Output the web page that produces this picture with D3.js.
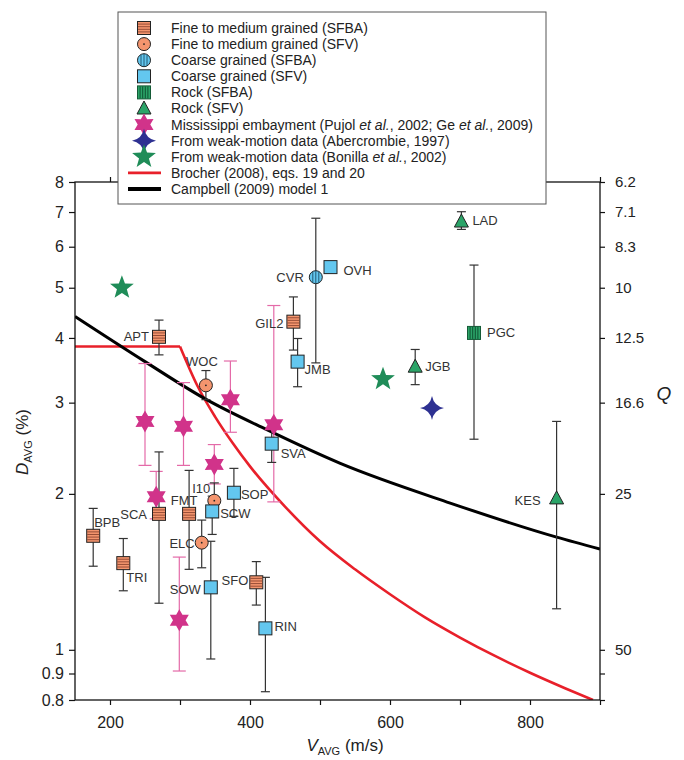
<!DOCTYPE html>
<html lang="en">
<head>
<meta charset="UTF-8">
<title>Damping vs VAVG</title>
<script src="https://d3js.org/d3.v7.min.js"></script>
<style>
    body { margin: 0; background: #fff; }
    svg { display: block; font-family: "Liberation Sans", Arial, sans-serif; }
    .tick text { font-size: 16px; fill: #222; }
    .tick line { stroke: #111; stroke-width: 1.2px; }
    .site { font-size: 13px; fill: #333; }
    .leg { font-size: 14px; fill: #222; }
</style>
</head>
<body>
<svg id="chart" width="684" height="760"></svg>
<script>
// ---- data: V_AVG (m/s), D_AVG (%) and error range ----
const fineSFBA = [
    {site: "APT", v: 270, d: 4.02, lo: 3.71, hi: 4.33},
    {site: "GIL2", v: 462, d: 4.30, lo: 3.79, hi: 4.80},
    {site: "BPB", v: 176, d: 1.66, lo: 1.45, hi: 1.875},
    {site: "TRI", v: 219, d: 1.47, lo: 1.30, hi: 1.64},
    {site: "SCA", v: 270, d: 1.83, lo: 1.23, hi: 2.41},
    {site: "FMT", v: 313, d: 1.83, lo: 1.43, hi: 2.22},
    {site: "SFO", v: 409, d: 1.35, lo: 1.22, hi: 1.48}
];
const fineSFV = [
    {site: "WOC", v: 337, d: 3.24, lo: 3.04, hi: 3.46},
    {site: "I10", v: 349, d: 1.94, lo: 1.80, hi: 2.10},
    {site: "ELC", v: 331, d: 1.61, lo: 1.44, hi: 1.78}
];
const coarseSFBA = [
    {site: "CVR", v: 494, d: 5.24, lo: 3.58, hi: 6.81}
];
const coarseSFV = [
    {site: "OVH", v: 515, d: 5.48, lo: 5.35, hi: 5.60},
    {site: "JMB", v: 468, d: 3.60, lo: 3.22, hi: 3.99},
    {site: "SVA", v: 431, d: 2.50, lo: 2.30, hi: 2.70},
    {site: "SOP", v: 377, d: 2.01, lo: 1.81, hi: 2.24},
    {site: "SCW", v: 346, d: 1.85, lo: 1.67, hi: 1.98},
    {site: "SOW", v: 344, d: 1.32, lo: 0.96, hi: 1.62},
    {site: "RIN", v: 422, d: 1.10, lo: 0.83, hi: 1.38}
];
const rockSFBA = [
    {site: "PGC", v: 720, d: 4.09, lo: 2.55, hi: 5.53}
];
const rockSFV = [
    {site: "LAD", v: 702, d: 6.71, lo: 6.48, hi: 7.01},
    {site: "JGB", v: 636, d: 3.52, lo: 3.25, hi: 3.80},
    {site: "KES", v: 838, d: 1.96, lo: 1.20, hi: 2.76}
];
const mississippi = [
    {v: 250, d: 2.76, lo: 2.27, hi: 3.57},
    {v: 305, d: 2.70, lo: 2.27, hi: 3.28},
    {v: 372, d: 3.04, lo: 2.63, hi: 3.61},
    {v: 434, d: 2.72, lo: 1.93, hi: 4.62},
    {v: 349, d: 2.28, lo: 2.09, hi: 2.49},
    {v: 266, d: 1.975, lo: 1.79, hi: 2.21},
    {v: 299, d: 1.14, lo: 0.91, hi: 1.51}
];
const abercrombie = [{v: 660, d: 2.93}];
const bonilla = [{v: 217, d: 5.0}, {v: 590, d: 3.33}];

// model curves
const brocherV = [150, 300, 325, 350, 375, 400, 450, 500, 550, 600, 650, 700, 750, 800, 850, 890];
const brocherD = [3.85, 3.85, 3.23, 2.82, 2.51, 2.26, 1.89, 1.62, 1.43, 1.28, 1.155, 1.056, 0.973, 0.903, 0.843, 0.80];
const campbellV = [150, 250, 338, 424, 529, 686, 838, 900];
const campbellD = [4.40, 3.60, 3.04, 2.66, 2.29, 1.92, 1.65, 1.565];

// axis ticks
const xTicks = [200, 300, 400, 500, 600, 700, 800, 900];
const xLabels = [200, 400, 600, 800];
const yTicks = [0.8, 0.9, 1, 2, 3, 4, 5, 6, 7, 8];
const qLabels = ["", "", "50", "25", "16.6", "12.5", "10", "8.3", "7.1", "6.2"];

const legendLabels = [
    "Fine to medium grained (SFBA)",
    "Fine to medium grained (SFV)",
    "Coarse grained (SFBA)",
    "Coarse grained (SFV)",
    "Rock (SFBA)",
    "Rock (SFV)",
    "Mississippi embayment (Pujol et al., 2002; Ge et al., 2009)",
    "From weak-motion data (Abercrombie, 1997)",
    "From weak-motion data (Bonilla et al., 2002)",
    "Brocher (2008), eqs. 19 and 20",
    "Campbell (2009) model 1"
];
const legendTypes = ["fineSFBA", "fineSFV", "coarseSFBA", "coarseSFV", "rockSFBA", "rockSFV",
    "miss", "aber", "bon", "redline", "blackline"];

// label placement next to each site marker: dx, dy, anchor
const labelPos = {
    APT: [-10, 0, "end"], GIL2: [-10, 2, "end"], BPB: [1, -13, "start"], TRI: [3, 14, "start"],
    SCA: [-12, 1, "end"], FMT: [-5, -13, "middle"], SFO: [-8, -2, "end"],
    WOC: [-4, -24, "middle"], I10: [-13, -12, "middle"], ELC: [-7, 1, "end"],
    CVR: [-12, 0, "end"], OVH: [13, 3, "start"], JMB: [7, 8, "start"], SVA: [9, 10, "start"],
    SOP: [7, 2, "start"], SCW: [8, 2, "start"], SOW: [-10, 2, "end"], RIN: [9, -2, "start"],
    PGC: [13, 0, "start"], LAD: [11, -1, "start"], JGB: [10, 0, "start"], KES: [-16, 2, "end"]
};

const svg = d3.select("#chart");
const pLeft = 75, pRight = 600, pTop = 182, pBottom = 700;

const x = d3.scaleLinear().domain([150, 900]).range([pLeft, pRight]);
const y = d3.scaleLog().domain([0.8, 8]).range([pBottom, pTop]);

svg.append("clipPath").attr("id", "plotclip")
    .append("rect").attr("x", pLeft).attr("y", pTop).attr("width", pRight - pLeft).attr("height", pBottom - pTop);

// model lines
const lines = svg.append("g").attr("clip-path", "url(#plotclip)");
const brocher = d3.zip(brocherV, brocherD);
// flat part (straight) then the curved part from the corner on
const flatLine = d3.line().x(d => x(d[0])).y(d => y(d[1]));
const smoothLine = d3.line().x(d => x(d[0])).y(d => y(d[1])).curve(d3.curveMonotoneX);
lines.append("path").datum(brocher.slice(0, 2))
    .attr("d", flatLine).attr("fill", "none").attr("stroke", "#e8202a").attr("stroke-width", 2.6);
lines.append("path").datum(brocher.slice(1))
    .attr("d", smoothLine).attr("fill", "none").attr("stroke", "#e8202a").attr("stroke-width", 2.6);
lines.append("path").datum(d3.zip(campbellV, campbellD))
    .attr("d", smoothLine).attr("fill", "none").attr("stroke", "#000").attr("stroke-width", 3);

// marker drawing
const colors = {salmon: "#f4956e", salmonStripe: "#8c4430", blue: "#63c7ef", green: "#2ba468",
    greenStripe: "#0c4a2b", magenta: "#d1338a", navy: "#2e3192", dkgreen: "#1f8c58"};

function starPath(n, R, r) {
    const pts = d3.range(2 * n).map(i => {
        const a = -Math.PI / 2 + i * Math.PI / n;
        const rad = i % 2 ? r : R;
        return [rad * Math.cos(a), rad * Math.sin(a)];
    });
    return "M" + pts.map(p => p.join(",")).join("L") + "Z";
}

function drawMarker(g, type, cx, cy) {
    const s = g.append("g").attr("transform", `translate(${cx},${cy})`);
    if (type === "fineSFBA" || type === "rockSFBA" || type === "coarseSFV") {
        const fill = type === "fineSFBA" ? colors.salmon : type === "rockSFBA" ? colors.green : colors.blue;
        s.append("rect").attr("x", -6.5).attr("y", -6.5).attr("width", 13).attr("height", 13)
            .attr("fill", fill).attr("stroke", type === "rockSFBA" ? "#145a36" : "#222").attr("stroke-width", 1);
        [-3.9, -1.3, 1.3, 3.9].forEach(o => {
            if (type === "fineSFBA") {
                s.append("line").attr("x1", -6).attr("x2", 6).attr("y1", o).attr("y2", o)
                    .attr("stroke", colors.salmonStripe).attr("stroke-width", 0.9);
            } else if (type === "rockSFBA") {
                s.append("line").attr("y1", -6).attr("y2", 6).attr("x1", o).attr("x2", o)
                    .attr("stroke", colors.greenStripe).attr("stroke-width", 0.9);
            }
        });
    } else if (type === "fineSFV") {
        s.append("circle").attr("r", 6.5).attr("fill", colors.salmon).attr("stroke", "#222");
        s.append("circle").attr("r", 0.9).attr("fill", "#222");
    } else if (type === "coarseSFBA") {
        s.append("circle").attr("r", 6.5).attr("fill", colors.blue).attr("stroke", "#222");
        [-3, 0, 3].forEach(o => {
            const h = Math.sqrt(6.5 * 6.5 - o * o);
            s.append("line").attr("x1", o).attr("x2", o).attr("y1", -h).attr("y2", h)
                .attr("stroke", "#1d4f66").attr("stroke-width", 0.9);
        });
    } else if (type === "rockSFV") {
        s.append("path").attr("d", "M0,-7.5L7,5.5L-7,5.5Z")
            .attr("fill", colors.green).attr("stroke", "#222").attr("stroke-width", 1);
    } else if (type === "miss") {
        s.append("path").attr("d", starPath(6, 11, 6.3)).attr("fill", colors.magenta);
    } else if (type === "aber") {
        s.append("path").attr("d", "M0,-12Q2,-2 12,0Q2,2 0,12Q-2,2 -12,0Q-2,-2 0,-12Z").attr("fill", colors.navy);
    } else if (type === "bon") {
        s.append("path").attr("d", starPath(5, 12.5, 5.2)).attr("fill", colors.dkgreen);
    }
}

function drawErrors(g, data, color, cap) {
    data.forEach(p => {
        const cx = x(p.v);
        g.append("line").attr("x1", cx).attr("x2", cx).attr("y1", y(p.lo)).attr("y2", y(p.hi))
            .attr("stroke", color).attr("stroke-width", 1.2);
        [p.lo, p.hi].forEach(val => {
            g.append("line").attr("x1", cx - cap / 2).attr("x2", cx + cap / 2)
                .attr("y1", y(val)).attr("y2", y(val)).attr("stroke", color).attr("stroke-width", 1.2);
        });
    });
}

const errG = svg.append("g");
drawErrors(errG, mississippi, "#e46aa8", 13);
[fineSFBA, fineSFV, coarseSFBA, coarseSFV, rockSFBA, rockSFV].forEach(set => drawErrors(errG, set, "#333", 9));

const markG = svg.append("g");
const groups = [
    [mississippi, "miss"], [fineSFBA, "fineSFBA"], [fineSFV, "fineSFV"], [coarseSFBA, "coarseSFBA"],
    [coarseSFV, "coarseSFV"], [rockSFBA, "rockSFBA"], [rockSFV, "rockSFV"], [abercrombie, "aber"], [bonilla, "bon"]
];
groups.forEach(([set, type]) => set.forEach(p => drawMarker(markG, type, x(p.v), y(p.d))));

// site labels
groups.forEach(([set]) => set.filter(p => p.site).forEach(p => {
    const lp = labelPos[p.site];
    markG.append("text").attr("class", "site")
        .attr("x", x(p.v) + lp[0]).attr("y", y(p.d) + lp[1]).attr("dy", "0.35em")
        .attr("text-anchor", lp[2]).text(p.site);
}));

// frame + axes
svg.append("rect").attr("x", pLeft).attr("y", pTop).attr("width", pRight - pLeft).attr("height", pBottom - pTop)
    .attr("fill", "none").attr("stroke", "#111").attr("stroke-width", 1.3);

function clean(g) { g.select(".domain").remove(); }

svg.append("g").attr("transform", `translate(0,${pBottom})`)
    .call(d3.axisBottom(x).tickValues(xTicks).tickSize(5).tickPadding(12)
        .tickFormat(d => xLabels.includes(d) ? d : ""))
    .call(clean);
svg.append("g").attr("transform", `translate(0,${pTop})`)
    .call(d3.axisTop(x).tickValues(xTicks).tickSize(5).tickFormat(""))
    .call(clean);
svg.append("g").attr("transform", `translate(${pLeft},0)`)
    .call(d3.axisLeft(y).tickValues(yTicks).tickSize(6).tickPadding(5).tickFormat(d => d))
    .call(clean);
svg.append("g").attr("transform", `translate(${pRight},0)`)
    .call(d3.axisRight(y).tickValues(yTicks).tickSize(5).tickPadding(10).tickFormat((d, i) => qLabels[i]))
    .call(g => g.selectAll(".tick text").style("font-size", "15px"))
    .call(clean);

// axis titles
const yt = svg.append("text").attr("transform", "translate(28,442) rotate(-90)")
    .attr("text-anchor", "middle").attr("font-size", 17).attr("fill", "#222");
yt.append("tspan").attr("font-style", "italic").text("D");
yt.append("tspan").attr("font-size", 11).attr("dy", 4).text("AVG");
yt.append("tspan").attr("dy", -4).text(" (%)");

const xt = svg.append("text").attr("x", 345).attr("y", 751)
    .attr("text-anchor", "middle").attr("font-size", 17).attr("fill", "#222");
xt.append("tspan").attr("font-style", "italic").text("V");
xt.append("tspan").attr("font-size", 11).attr("dy", 4).text("AVG");
xt.append("tspan").attr("dy", -4).text(" (m/s)");

svg.append("text").attr("x", 664).attr("y", 400).attr("text-anchor", "middle")
    .attr("font-size", 19).attr("font-style", "italic").attr("fill", "#222").text("Q");

// legend
const leg = svg.append("g");
leg.append("rect").attr("x", 118).attr("y", 12).attr("width", 428).attr("height", 192)
    .attr("fill", "#fff").attr("stroke", "#555").attr("stroke-width", 1);
legendLabels.forEach((label, i) => {
    const ry = 28 + i * 16.1;
    const type = legendTypes[i];
    if (type === "redline") {
        leg.append("line").attr("x1", 128).attr("x2", 161).attr("y1", ry).attr("y2", ry)
            .attr("stroke", "#e8202a").attr("stroke-width", 2.6);
    } else if (type === "blackline") {
        leg.append("line").attr("x1", 128).attr("x2", 161).attr("y1", ry).attr("y2", ry)
            .attr("stroke", "#000").attr("stroke-width", 4);
    } else {
        drawMarker(leg, type, 144, ry);
    }
    const t = leg.append("text").attr("class", "leg").attr("x", 171).attr("y", ry).attr("dy", "0.35em");
    const parts = label.split("et al.");
    parts.forEach((part, j) => {
        t.append("tspan").text(part);
        if (j < parts.length - 1) t.append("tspan").attr("font-style", "italic").text("et al.");
    });
});
</script>
</body>
</html>
